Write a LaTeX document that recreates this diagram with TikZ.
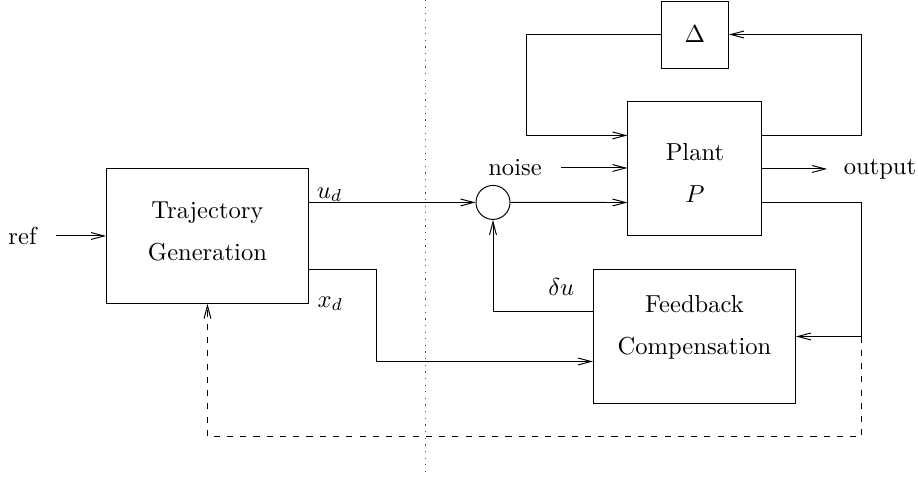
\documentclass[tikz,border=0pt]{standalone}
\usepackage{amsmath}
\usepackage{tikz}
\usetikzlibrary{
    arrows.meta,
    positioning,
    calc
}
\tikzset{
  block/.style   = {draw, minimum width=2.89cm, minimum height=1.925cm},
  pblock/.style  = {draw, minimum size=1.918cm},
  dblock/.style  = {draw, minimum size=0.959cm},
  btext/.style   = {align=center},
  junc/.style    = {draw, circle, minimum size=0.487cm, inner sep=0pt},
  arr/.style     = {->},
  darr/.style    = {->, dash pattern=on 2.5pt off 2.9pt},
  sep/.style     = {black!70, dash pattern=on 0.5pt off 2.2pt}
}

\begin{document}
\begin{tikzpicture}[
    >={Straight Barb[length=5.3pt,width=2.8pt]},
    line width=0.4pt
]
\useasboundingbox (0,0) rectangle (13.137,-6.826);

% blocks
\node[block] (traj) at (2.969,-3.377) {};
\node[pblock] (plant) at (9.945,-2.418) {};
\node[dblock] (delta) at (9.945,-0.494) {$\Delta$};
\node[block] (fb) at (9.938,-4.815) {};
\node[junc] (sum) at (7.055,-2.897) {};

% block texts
\node[btext] (trajtxt) at ([yshift=0.06cm]traj.center)
    {Trajectory\\[5pt]Generation};
\node[btext] (planttxt) at ([yshift=-0.06cm]plant.center)
    {Plant\\[5pt]$P$};
\node[btext] (fbtxt) at ([yshift=0.13cm]fb.center)
    {Feedback\\[5pt]Compensation};

% ports
\coordinate (tout1) at ([yshift=0.48cm]traj.east);
\coordinate (tout3) at ([yshift=-0.48cm]traj.east);
\coordinate (pin1) at ([yshift=0.48cm]plant.west);
\coordinate (pin3) at ([yshift=-0.48cm]plant.west);
\coordinate (pout1) at ([yshift=0.48cm]plant.east);
\coordinate (pout3) at ([yshift=-0.48cm]plant.east);
\coordinate (fbout) at ([yshift=0.358cm]fb.west);
\coordinate (fbin) at ([yshift=-0.358cm]fb.west);
\coordinate (rtop) at (12.335,-0.494);
\coordinate (rbot) at (12.335,-4.815);
\coordinate (dbot) at (12.335,-6.253);
\coordinate (xdturn) at (5.381,0);
\coordinate (septop) at (6.082,0);
\coordinate (sepbot) at (6.082,-6.78);

% outside texts
\node[left=0.87cm of traj] (ref) {ref};
\node (noise) at (7.370,-2.404) {noise};
\node (output) at (12.593,-2.418) {output};

% divider
\draw[sep] (septop) -- (sepbot);

% reference and trajectory outputs
\draw[arr, shorten <=0.157cm] (ref) -- (traj);
\draw[arr] (tout1) -- node[pos=0, anchor=south west, inner xsep=3pt,
    inner ysep=0pt] (ud) {$u_d$} (sum);
\node[right] (xd) at (traj.south east) {$x_d$};
\draw[arr] (tout3) -| (xdturn |- fbin) -- (fbin);

% plant inputs
\draw[arr] (sum) -- (pin3);
\draw[arr, shorten <=0.157cm] (noise) -- (noise -| plant.west);
\draw[arr, shorten >=0.114cm] (plant) -- (output);

% uncertainty loop
\draw[arr] (delta.west) -| ([xshift=-1.445cm]pin1) -- (pin1);
\draw[arr] (pout1) -| (rtop) -- (delta.east);

% feedback path
\draw[arr] (pout3) -| (rbot) -- (fb.east);
\node[above left=0.1cm and 0.143cm of fbout] (du) {$\delta u$};
\draw[arr] (fbout) -| (sum);

% back to trajectory generation
\draw[darr] (rbot) -- (dbot) -| (traj.south);

\end{tikzpicture}
\end{document}
